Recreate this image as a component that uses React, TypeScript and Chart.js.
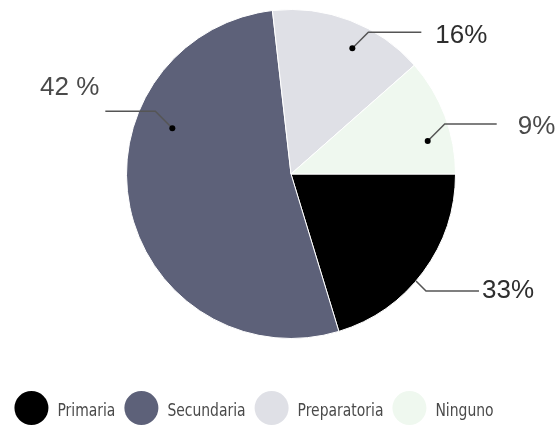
import React, { useEffect, useRef } from "react";
import { Chart, registerables } from "chart.js";

Chart.register(...registerables);

const categories = ["Primaria", "Secundaria", "Preparatoria", "Ninguno"];
const sliceValues = [20.3, 52.9, 15.3, 11.5];
const percentLabels = ["33%", "42 %", "16%", "9%"];
const sliceColors = ["#000000", "#5d6179", "#dfe0e6", "#eff8ef"];

// leader-line anchors: t = fraction along slice angle, r = fraction of radius,
// sx/sy = elbow direction, d = elbow length, len = horizontal run, gap = text gap, ty = text vertical offset
const leaderLayout = [
  { t: 0.555, r: 1.0, sx: 1, sy: 1, d: 10, len: 53, gap: 3, ty: 0, color: "#2e2e2e", dot: false },
  { t: 0.672, r: 0.773, sx: -1, sy: -1, d: 17, len: 50, gap: 6, ty: -23, color: "#4a4a4a", dot: true },
  { t: 0.59, r: 0.85, sx: 1, sy: -1, d: 16, len: 53, gap: 14, ty: 3, color: "#2e2e2e", dot: true },
  { t: 0.672, r: 0.855, sx: 1, sy: -1, d: 17, len: 52, gap: 21, ty: 3, color: "#4a4a4a", dot: true },
];

const annotationPlugin = {
  id: "pieAnnotations",
  afterDraw(chart: any) {
    const ctx = chart.ctx;
    const meta = chart.getDatasetMeta(0);
    ctx.save();
    meta.data.forEach((arc: any, i: number) => {
      const { x, y, startAngle, endAngle, outerRadius } = arc.getProps(
        ["x", "y", "startAngle", "endAngle", "outerRadius"],
        true
      );
      const L = leaderLayout[i];
      const a = startAngle + L.t * (endAngle - startAngle);
      const px = x + Math.cos(a) * outerRadius * L.r;
      const py = y + Math.sin(a) * outerRadius * L.r;
      const ex = px + L.sx * L.d;
      const ey = py + L.sy * L.d;
      const hx = ex + L.sx * L.len;
      ctx.strokeStyle = "#555555";
      ctx.lineWidth = 1.5;
      ctx.beginPath();
      ctx.moveTo(px, py);
      ctx.lineTo(ex, ey);
      ctx.lineTo(hx, ey);
      ctx.stroke();
      if (L.dot) {
        ctx.fillStyle = "#000000";
        ctx.beginPath();
        ctx.arc(px, py, 3, 0, Math.PI * 2);
        ctx.fill();
      }
      ctx.font = "26px 'Liberation Sans', Arial, sans-serif";
      ctx.fillStyle = L.color;
      ctx.textBaseline = "middle";
      ctx.textAlign = L.sx > 0 ? "left" : "right";
      ctx.fillText(percentLabels[i], hx + L.sx * L.gap, ey + L.ty);
    });

    // custom legend
    const legendY = 408;
    const radius = 17;
    const squeeze = 0.86;
    ctx.font = "18px 'DejaVu Sans Condensed', 'Liberation Sans', sans-serif";
    const labels: string[] = chart.data.labels;
    const colors: string[] = chart.data.datasets[0].backgroundColor;
    const textGap = 9;
    const itemGap = 9;
    const widths = labels.map((l) => ctx.measureText(l).width * squeeze);
    const total =
      widths.reduce((s, w) => s + w, 0) + labels.length * (radius * 2 + textGap) + (labels.length - 1) * itemGap;
    let cx = 254 - total / 2;
    labels.forEach((label, i) => {
      ctx.fillStyle = colors[i];
      ctx.beginPath();
      ctx.arc(cx + radius, legendY, radius, 0, Math.PI * 2);
      ctx.fill();
      ctx.save();
      ctx.translate(cx + radius * 2 + textGap, legendY + 3);
      ctx.scale(squeeze, 1);
      ctx.fillStyle = "#4a4a4a";
      ctx.textAlign = "left";
      ctx.textBaseline = "middle";
      ctx.fillText(label, 0, 0);
      ctx.restore();
      cx += radius * 2 + textGap + widths[i] + itemGap;
    });
    ctx.restore();
  },
};

export default function App() {
  const canvasRef = useRef<HTMLCanvasElement | null>(null);

  useEffect(() => {
    if (!canvasRef.current) return;
    const chart = new Chart(canvasRef.current, {
      type: "pie",
      data: {
        labels: categories,
        datasets: [
          {
            data: sliceValues,
            backgroundColor: sliceColors,
            borderColor: "#ffffff",
            borderWidth: 1,
          },
        ],
      },
      options: {
        responsive: false,
        animation: false,
        rotation: 90,
        layout: { padding: { left: 126, right: 104, top: 9, bottom: 87 } },
        plugins: {
          legend: { display: false },
          tooltip: { enabled: false },
        },
      },
      plugins: [annotationPlugin],
    });
    return () => chart.destroy();
  }, []);

  return (
    <div style={{ position: "absolute", left: 0, top: 0, width: 560, height: 426, background: "#ffffff" }}>
      <canvas ref={canvasRef} width={560} height={426} style={{ display: "block" }} />
    </div>
  );
}
